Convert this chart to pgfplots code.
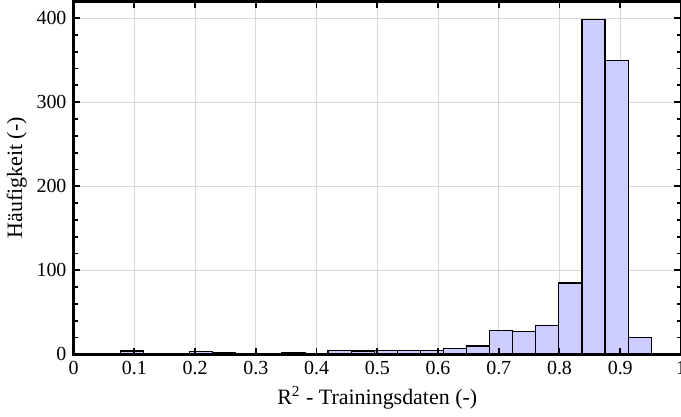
\documentclass[border=0pt]{standalone}
\usepackage{fontspec}
\setmainfont{Liberation Serif}
\usepackage{pgfplots}
\pgfplotsset{compat=1.18}
\definecolor{barfill}{RGB}{204,204,255}
\definecolor{gridgray}{RGB}{215,215,215}

\begin{document}
\begin{tikzpicture}[trim axis right]
\begin{axis}[
  set layers,
  axis on top,
  width=304.5pt,
  height=177pt,
  scale only axis,
  xmin=0, xmax=1,
  ymin=0, ymax=420,
  xtick={0,0.1,0.2,0.3,0.4,0.5,0.6,0.7,0.8,0.9,1},
  ytick={0,100,200,300,400},
  minor y tick num=4,
  tick align=inside,
  major tick length=3.4pt,
  minor tick length=2pt,
  tick style={black, line width=0.9pt},
  axis line style={line width=1.3pt},
  grid=major,
  major grid style={/pgfplots/on layer=axis background, draw=gridgray, line width=0.5pt},
  /pgf/number format/assume math mode=true,
  tick label style={font=\fontsize{10}{12}\selectfont},
  label style={font=\fontsize{11}{13}\selectfont},
  xlabel={R\textsuperscript{2} - Trainingsdaten (-)},
  ylabel={Häufigkeit (-)},
  xlabel style={yshift=1pt},
  ylabel style={yshift=-2pt},
]
\addplot[ybar interval, fill=barfill, draw=black, line width=0.6pt] coordinates {
  (0.039,1) (0.077,4) (0.115,1) (0.153,1) (0.191,3) (0.229,2)
  (0.267,1) (0.305,0) (0.343,2) (0.381,0) (0.419,5) (0.457,4)
  (0.495,5) (0.533,5) (0.571,5) (0.609,7) (0.647,10) (0.685,28)
  (0.723,27) (0.761,34) (0.799,85) (0.837,398) (0.875,350) (0.913,20)
  (0.951,20)
};
\end{axis}
\end{tikzpicture}
\end{document}
